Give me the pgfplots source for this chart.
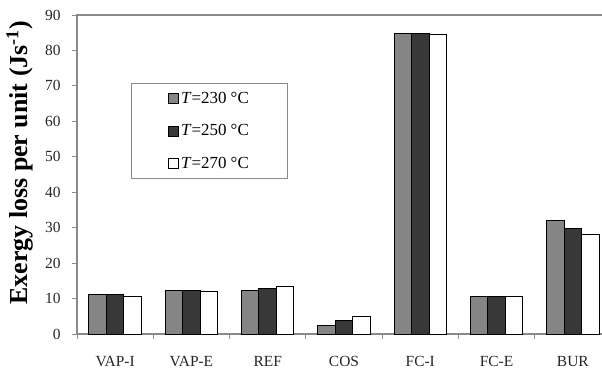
\documentclass[border=0pt]{standalone}
\usepackage{pgfplots}
\pgfplotsset{compat=1.18}
\usepackage{fontspec}
\setmainfont{Liberation Serif}
\definecolor{gA}{HTML}{858585}
\definecolor{gB}{HTML}{383838}
\definecolor{axg}{HTML}{8A8A8A}
\begin{document}
\begin{tikzpicture}
\begin{axis}[
  scale only axis,
  width=534bp, height=319bp,
  at={(0,0)}, anchor=south west,
  xmin=-0.5, xmax=6.5,
  ymin=0, ymax=90,
  ybar=0pt,
  bar width=17.5bp,
  axis line style={axg, line width=1.2bp},
  xtick={0,1,2,3,4,5,6},
  xticklabels={VAP-I,VAP-E,REF,COS,FC-I,FC-E,BUR},
  major x tick style={draw=none},
  minor xtick={-0.5,0.5,1.5,2.5,3.5,4.5,5.5,6.5},
  minor x tick style={axg, line width=0.8bp},
  ytick={0,10,...,90},
  tick align=outside,
  tick pos=left,
  major tick length=5bp,
  minor tick length=5bp,
  y tick style={axg, line width=0.8bp},
  /pgf/number format/assume math mode=true,
  tick label style={font=\fontsize{15.5}{18}\selectfont, text=black!85},
  xticklabel style={yshift=-14bp},
  yticklabel style={xshift=-8bp},
  ylabel={\textbf{Exergy loss per unit (Js\textsuperscript{-1})}},
  ylabel style={font=\fontsize{26}{30}\selectfont, at={(axis description cs:-0.107,0.537)}, anchor=center, rotate=0},
  legend style={at={(axis description cs:0.101,0.787)}, anchor=north west,
    draw=axg, line width=0.8bp, font=\fontsize{17}{19}\selectfont,
    inner xsep=37bp, inner ysep=7bp, row sep=15.5bp, legend cell align=left},
  legend image code/.code={\draw[#1, line width=0.8bp] (0bp,-5bp) rectangle (10bp,5bp);},
  clip=false,
]
\addplot[draw=black, line width=1bp, fill=gA] coordinates {(0,11.1) (1,12.2) (2,12.2) (3,2.5) (4,84.8) (5,10.7) (6,32.0)};
\addplot[draw=black, line width=1bp, fill=gB] coordinates {(0,11.1) (1,12.2) (2,12.8) (3,3.7) (4,84.8) (5,10.7) (6,29.8)};
\addplot[draw=black, line width=1bp, fill=white] coordinates {(0,10.7) (1,12.0) (2,13.4) (3,4.9) (4,84.6) (5,10.7) (6,28.2)};
\legend{\textit{T}=230 °C, \textit{T}=250 °C, \textit{T}=270 °C}
\end{axis}
\pgfresetboundingbox
\path[use as bounding box] (-77bp,-40bp) rectangle (525bp,334bp);
\end{tikzpicture}
\end{document}
